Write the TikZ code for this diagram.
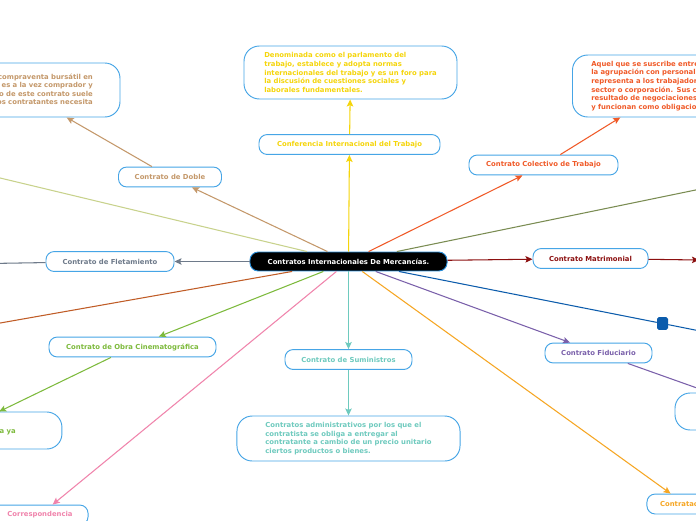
\documentclass[tikz,border=0pt]{standalone}
\usepackage{fontspec}
\setmainfont{DejaVu Sans}
\usetikzlibrary{arrows.meta}
\definecolor{BordeAzul}{RGB}{70,165,230}
\definecolor{Amarillo}{RGB}{245,213,10}
\definecolor{Canela}{RGB}{196,152,106}
\definecolor{VerdeClaro}{RGB}{200,210,140}
\definecolor{Gris}{RGB}{110,122,138}
\definecolor{Marron}{RGB}{192,92,38}
\definecolor{Verde}{RGB}{125,186,60}
\definecolor{Rosa}{RGB}{240,132,172}
\definecolor{Turquesa}{RGB}{110,202,190}
\definecolor{Naranja}{RGB}{246,166,35}
\definecolor{Morado}{RGB}{122,96,170}
\definecolor{Azul}{RGB}{12,92,172}
\definecolor{Granate}{RGB}{140,16,16}
\definecolor{Oliva}{RGB}{122,140,82}
\definecolor{Rojizo}{RGB}{240,90,40}
\tikzset{
  tema/.style={draw=BordeAzul, line width=0.8pt, fill=white, rounded corners=7pt,
    minimum height=17pt, inner sep=0pt, font=\fontsize{5.85}{7.35}\selectfont\bfseries},
  nota/.style={draw=BordeAzul, line width=0.8pt, fill=white, rounded corners=13pt,
    inner sep=0pt, align=left, font=\fontsize{5.85}{7.35}\selectfont\bfseries},
  rama/.style={line width=0.9pt, -{Stealth[length=6pt,width=5.5pt,inset=1.2pt]}},
}
\begin{document}
\begin{tikzpicture}[x=0.03cm,y=-0.03cm]
\fill[white] (0,0) rectangle (696,520);
\useasboundingbox (0,0) rectangle (696,520);

% nodo central
\node[tema, fill=black, draw={rgb,255:red,40;green,140;blue,215}, text=white,
  minimum width=168.2pt, minimum height=16.2pt] (raiz) at (348.5,261.5)
  {Contratos Internacionales De Mercancías.};

% temas
\node[tema, text=Amarillo, minimum width=154.5pt] (conferencia) at (349.5,144.5) {Conferencia Internacional del Trabajo};
\node[tema, text=Canela, minimum width=87.9pt] (doble) at (170,177) {Contrato de Doble};
\node[tema, text=Gris, minimum width=109.3pt] (fletamiento) at (110,261.5) {Contrato de Fletamiento};
\node[tema, text=Verde, minimum width=142.5pt] (obra) at (132.5,347) {Contrato de Obra Cinematográfica};
\node[tema, text=Turquesa, minimum width=108.4pt] (suministros) at (348.5,359.5) {Contrato de Suministros};
\node[tema, text=Morado, minimum width=91.3pt] (fiduciario) at (598.5,353) {Contrato Fiduciario};
\node[tema, text=Granate, minimum width=98.2pt] (matrimonial) at (590.5,258.5) {Contrato Matrimonial};
\node[tema, text=Rojizo, minimum width=127.2pt] (colectivo) at (543.5,165) {Contrato Colectivo de Trabajo};
\node[tema, text=Rosa, minimum width=82pt] (corresp) at (40,515) {Correspondencia};
\node[tema, text=Naranja, minimum width=65pt] (contratacion) at (685,504) {Contratación};

% notas
\node[nota, text=Amarillo, minimum width=181.8pt, minimum height=45.2pt] (confNota) at (350.5,72.5)
  {Denominada como el parlamento del\\trabajo, establece y adopta normas\\internacionales del trabajo y es un foro para\\la discusión de cuestiones sociales y\\laborales fundamentales.};
\node[nota, text=Canela, align=right, text width=126pt, minimum width=172.4pt, minimum height=46.1pt] (dobleNota) at (19,90)
  {Es una compraventa bursátil en\\cada uno es a la vez comprador y\\El objeto de este contrato suele\\que los contratantes necesita};
\node[nota, text=Rojizo, text width=136pt, minimum width=168.2pt, minimum height=52.9pt] (colNota) at (671,86)
  {Aquel que se suscribe entre ellos y\\la agrupación con personalidad\\representa a los trabajadores del\\sector o corporación. Sus cláusulas\\resultado de negociaciones previas\\y funcionan como obligaciones.};
\node[nota, text=Turquesa, minimum width=190.4pt, minimum height=38.4pt] (sumNota) at (348.5,438.5)
  {Contratos administrativos por los que el\\contratista se obliga a entregar al\\contratante a cambio de un precio unitario\\ciertos productos o bienes.};
\node[nota, text=Verde, minimum width=174pt, minimum height=31.6pt] (obraNota) at (-40,430.5)
  {Acuerdo sobre toda obra\\o también de una película ya\\terminada.};
\node[nota, minimum width=150.2pt, minimum height=31.6pt] (fidNota) at (763,411.5) {};

% puntos fuera del dibujo
\coordinate (verdeFuera) at (-100,154);
\coordinate (fletFuera) at (-100,265);
\coordinate (marronFuera) at (-100,340.7);
\coordinate (olivaFuera) at (800,168.5);
\coordinate (azulFuera) at (800,351);
\coordinate (matriFuera) at (699,260);
\node[fill=Azul, rounded corners=1.5pt, minimum width=9.4pt, minimum height=11pt, inner sep=0pt] (marcaAzul) at (662.5,323.5) {};

% ramas
\draw[rama, Amarillo] (raiz) -- (conferencia);
\draw[rama, Amarillo] (conferencia) -- (confNota);
\draw[rama, Canela] (raiz) -- (doble);
\draw[rama, Canela] (doble) -- (dobleNota);
\draw[line width=0.9pt, VerdeClaro] (raiz) -- (verdeFuera);
\draw[rama, Gris] (raiz) -- (fletamiento);
\draw[rama, Gris] (fletamiento) -- (fletFuera);
\draw[rama, Marron] (raiz) -- (marronFuera);
\draw[rama, Verde] (raiz) -- (obra);
\draw[rama, Verde] (obra) -- (obraNota);
\draw[rama, Rosa] (raiz) -- (corresp);
\draw[rama, Turquesa] (raiz) -- (suministros);
\draw[rama, Turquesa] (suministros) -- (sumNota);
\draw[rama, Naranja] (raiz) -- (contratacion);
\draw[rama, Morado] (raiz) -- (fiduciario);
\draw[rama, Morado] (fiduciario) -- (fidNota);
\draw[line width=0.9pt, Azul] (raiz) -- (marcaAzul);
\draw[rama, Azul] (marcaAzul) -- (azulFuera);
\draw[rama, Granate] (raiz) -- (matrimonial);
\draw[rama, Granate] (matrimonial) -- (matriFuera);
\draw[rama, Oliva] (raiz) -- (olivaFuera);
\draw[rama, Rojizo] (raiz) -- (colectivo);
\draw[rama, Rojizo] (colectivo) -- (colNota);
\end{tikzpicture}
\end{document}
